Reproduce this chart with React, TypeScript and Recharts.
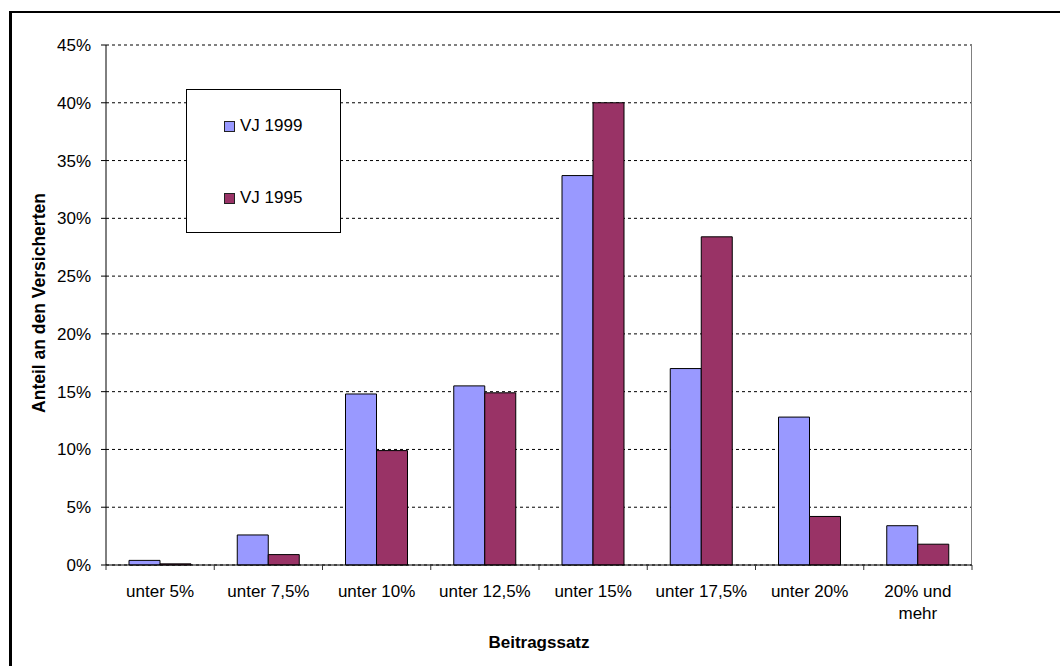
import React from 'react';
import { BarChart, Bar, XAxis, YAxis, CartesianGrid, Legend, Text } from 'recharts';

// Share of insured persons by contribution-rate band
const CATEGORIES = [
  'unter 5%',
  'unter 7,5%',
  'unter 10%',
  'unter 12,5%',
  'unter 15%',
  'unter 17,5%',
  'unter 20%',
  '20% und mehr',
];
const VJ_1999 = [0.4, 2.6, 14.8, 15.5, 33.7, 17.0, 12.8, 3.4];
const VJ_1995 = [0.1, 0.9, 9.9, 14.9, 40.0, 28.4, 4.2, 1.8];
const Y_TICKS = [0, 5, 10, 15, 20, 25, 30, 35, 40, 45];

const SERIES = [
  { key: 'vj1999', name: 'VJ 1999', color: '#9999FF' },
  { key: 'vj1995', name: 'VJ 1995', color: '#993366' },
];

const X_TITLE = 'Beitragssatz';
const Y_TITLE = 'Anteil an den Versicherten';

const data = CATEGORIES.map((cat, i) => ({
  cat,
  vj1999: VJ_1999[i],
  vj1995: VJ_1995[i],
}));

const FONT = '"Liberation Sans", Arial, Helvetica, sans-serif';
const FONT_SIZE = 17;

// chart frame
const CHART_W = 1060;
const CHART_H = 666;
const MARGIN = { top: 45, right: 88, bottom: 0, left: 0 };
const Y_AXIS_W = 106;
const X_AXIS_H = 101;
const PLOT_W = CHART_W - MARGIN.left - MARGIN.right - Y_AXIS_W;
const BAND = PLOT_W / CATEGORIES.length;
const TICK_LEN = 5;

// category label plus the small boundary marks between categories
const CategoryTick = (props: any) => {
  const { x, y, payload, index } = props;
  const axisY = y - 20;
  const left = x - BAND / 2;
  const right = x + BAND / 2;
  return (
    <g>
      <line x1={left} x2={left} y1={axisY} y2={axisY + TICK_LEN} stroke="#333" />
      {index === CATEGORIES.length - 1 && (
        <line x1={right} x2={right} y1={axisY} y2={axisY + TICK_LEN} stroke="#333" />
      )}
      <Text
        x={x}
        y={y}
        width={95}
        textAnchor="middle"
        verticalAnchor="start"
        lineHeight={21.6}
        fill="#000"
        fontSize={FONT_SIZE}
        fontFamily={FONT}
        style={{ fontSize: FONT_SIZE, fontFamily: FONT }}
      >
        {payload.value}
      </Text>
    </g>
  );
};

const XTitle = (props: any) => {
  const vb = props.viewBox || { x: Y_AXIS_W, y: 565, width: PLOT_W, height: X_AXIS_H };
  return (
    <text
      x={vb.x + vb.width / 2}
      y={vb.y + 83}
      textAnchor="middle"
      fontWeight="bold"
      fontSize={FONT_SIZE}
      fontFamily={FONT}
      fill="#000"
    >
      {X_TITLE}
    </text>
  );
};

const YTitle = (props: any) => {
  const vb = props.viewBox || { x: 0, y: 45, width: Y_AXIS_W, height: 520 };
  const cx = 45;
  const cy = vb.y + vb.height / 2 - 2;
  return (
    <text
      x={cx}
      y={cy}
      transform={`rotate(-90 ${cx} ${cy})`}
      textAnchor="middle"
      fontWeight="bold"
      fontSize={17.5}
      fontFamily={FONT}
      fill="#000"
    >
      {Y_TITLE}
    </text>
  );
};

const LegendBox = () => (
  <div
    style={{
      width: 155,
      height: 144,
      boxSizing: 'border-box',
      border: '1px solid #000',
      background: '#fff',
      position: 'relative',
      fontFamily: FONT,
      fontSize: FONT_SIZE,
      color: '#000',
    }}
  >
    {SERIES.map((s, i) => (
      <div
        key={s.key}
        style={{
          position: 'absolute',
          left: 37,
          top: 27 + i * 72,
          height: 18,
          display: 'flex',
          alignItems: 'center',
          whiteSpace: 'nowrap',
        }}
      >
        <span
          style={{
            display: 'inline-block',
            width: 11,
            height: 11,
            boxSizing: 'border-box',
            border: '1px solid #222',
            background: s.color,
          }}
        />
        <span style={{ marginLeft: 5, lineHeight: '18px' }}>{s.name}</span>
      </div>
    ))}
  </div>
);

// solid frame line on the right edge of the plot
const rightEdge = (args: any) => {
  const off = args && args.offset;
  if (off && typeof off.left === 'number' && typeof off.width === 'number') {
    return [off.left + off.width - 0.5];
  }
  return [CHART_W - MARGIN.right - 0.5];
};

export default function App() {
  return (
    <div
      style={{
        position: 'absolute',
        left: 0,
        top: 0,
        width: CHART_W,
        height: CHART_H,
        overflow: 'hidden',
        background: '#fff',
      }}
    >
      {/* outer frame: only the left and top edges fall inside the page */}
      <svg
        width={CHART_W}
        height={CHART_H}
        style={{ position: 'absolute', left: 0, top: 0 }}
      >
        <line x1={10.5} x2={10.5} y1={11} y2={CHART_H} stroke="#000" strokeWidth={3} />
        <line x1={9} x2={CHART_W} y1={12} y2={12} stroke="#000" strokeWidth={2} />
      </svg>
      <div style={{ position: 'absolute', left: 0, top: 0 }}>
        <BarChart
          width={CHART_W}
          height={CHART_H}
          data={data}
          margin={MARGIN}
          barGap={0}
          barSize={31}
        >
          <CartesianGrid vertical={false} stroke="#000" strokeDasharray="3 3" />
          <CartesianGrid
            horizontal={false}
            stroke="#808080"
            verticalCoordinatesGenerator={rightEdge}
          />
          <XAxis
            dataKey="cat"
            height={X_AXIS_H}
            interval={0}
            axisLine={{ stroke: '#000' }}
            tickLine={false}
            tickSize={0}
            tickMargin={20}
            tick={<CategoryTick />}
            label={{ content: <XTitle /> } as any}
          />
          <YAxis
            domain={[0, 45]}
            ticks={Y_TICKS}
            interval={0}
            width={Y_AXIS_W}
            tickFormatter={(v: number) => `${v}%`}
            axisLine={{ stroke: '#000' }}
            tickLine={{ stroke: '#000' }}
            tickSize={TICK_LEN}
            tickMargin={10}
            tick={{ fill: '#000', fontSize: FONT_SIZE, fontFamily: FONT }}
            label={{ content: <YTitle /> } as any}
          />
          <Legend
            layout="vertical"
            align="center"
            verticalAlign="middle"
            content={<LegendBox />}
            wrapperStyle={{ position: 'absolute', left: 186, top: 89, width: 155, height: 144 }}
          />
          {SERIES.map((s) => (
            <Bar
              key={s.key}
              dataKey={s.key}
              name={s.name}
              fill={s.color}
              stroke="#000"
              strokeWidth={1}
              isAnimationActive={false}
            />
          ))}
        </BarChart>
      </div>
    </div>
  );
}
